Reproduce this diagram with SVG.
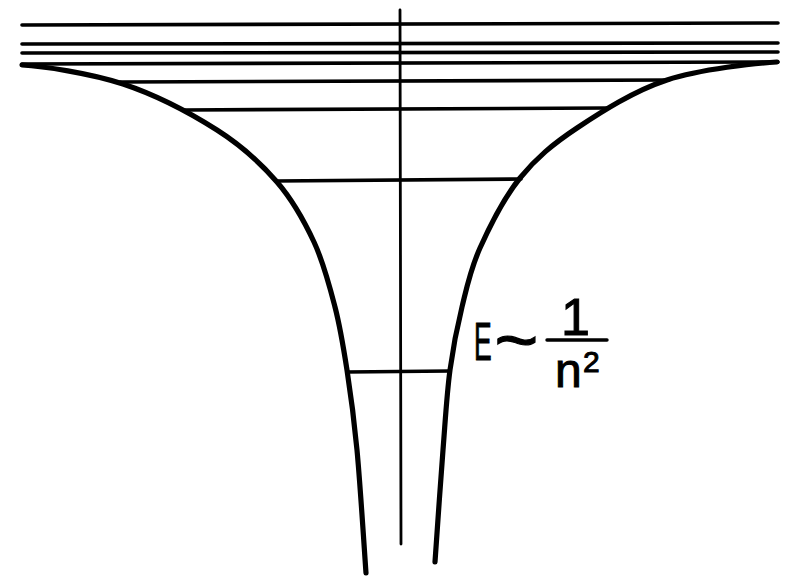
<svg xmlns="http://www.w3.org/2000/svg" width="789" height="578" viewBox="0 0 789 578">
  <style>
    .curve { fill: none; stroke: #000; stroke-width: 5.2; stroke-linecap: round; stroke-linejoin: round; }
    .level { fill: none; stroke: #000; stroke-width: 3.6; stroke-linecap: round; }
    .axis { fill: none; stroke: #000; stroke-width: 2.8; stroke-linecap: round; }
    .lbl { font-family: "Liberation Sans", Arial, sans-serif; fill: #000; stroke: #000; stroke-width: 1; }
  </style>
  <rect width="789" height="578" fill="#fff"/>
  <g id="levels">
    <line class="level" x1="22" y1="25" x2="778" y2="23"/>
    <line class="level" x1="22" y1="44" x2="778" y2="43"/>
    <line class="level" x1="22" y1="53" x2="778" y2="52"/>
    <line class="level" x1="22" y1="64" x2="778" y2="62"/>
    <line class="level" x1="120" y1="82" x2="669" y2="80"/>
    <line class="level" x1="184" y1="110" x2="607" y2="108"/>
    <line class="level" x1="276" y1="181" x2="521" y2="179"/>
    <line class="level" x1="347" y1="372" x2="450" y2="371"/>
  </g>
  <g id="axis">
    <line class="axis" x1="400" y1="10" x2="401" y2="544"/>
  </g>
  <g id="potential">
    <path class="curve" d="M22,65 C42,66 90.5,73.2 123,84 C155.5,94.8 191.3,113.7 217,130 C242.7,146.3 260.8,163.3 277,182 C293.2,200.7 304.3,221.2 314,242 C323.7,262.8 329.5,285.7 335,307 C340.5,328.3 343.3,346.2 347,370 C350.7,393.8 353.8,416.2 357,450 C360.2,483.8 364.5,552.5 366,573"/>
    <path class="curve" d="M777,62 C757,63 700.3,69 667,80 C633.7,91 601.5,111.7 577,128 C552.5,144.3 536.2,158 520,178 C503.8,198 489.7,226.5 480,248 C470.3,269.5 467,286.7 462,307 C457,327.3 453.2,346.2 450,370 C446.8,393.8 445.5,418 443,450 C440.5,482 436.3,543.3 435,562"/>
  </g>
  <g id="label">
    <text class="lbl" font-size="53" transform="translate(477,360) scale(0.5,1)" x="-6">E</text>
    <text class="lbl" font-size="60" transform="translate(497,365) scale(1.25,1.2)" x="-2">~</text>
    <text class="lbl" font-size="52" x="561" y="335">1</text>
    <line x1="547" y1="340" x2="607" y2="340" stroke="#000" stroke-width="3.4" stroke-linecap="round"/>
    <text class="lbl" font-size="48" x="555" y="387">n</text>
    <text class="lbl" font-size="30" x="583" y="372">2</text>
  </g>
</svg>
